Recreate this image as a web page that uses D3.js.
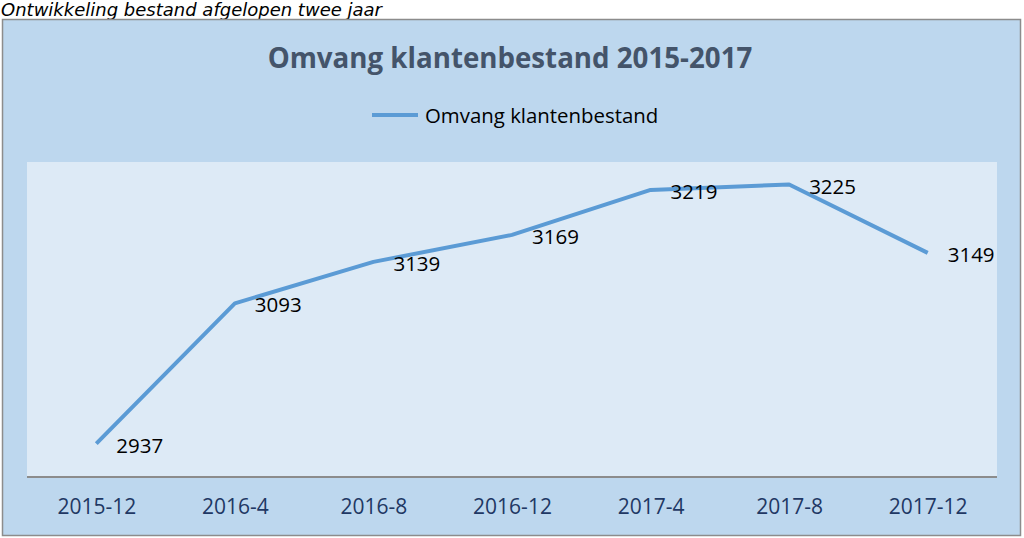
<!DOCTYPE html>
<html>
<head>
<meta charset="utf-8">
<script src="https://cdn.jsdelivr.net/npm/d3@7"></script>
<style>
  body { margin: 0; background: #fff; }
  svg { display: block; }
</style>
</head>
<body>
<div id="chart"></div>
<script>
// data
var months = ["2015-12", "2016-4", "2016-8", "2016-12", "2017-4", "2017-8", "2017-12"];
var klanten = [2937, 3093, 3139, 3169, 3219, 3225, 3149];
var yDomain = [2900, 3250];

var svgWidth = 1024, svgHeight = 538;

var svg = d3.select("#chart").append("svg")
    .attr("width", svgWidth).attr("height", svgHeight);

// subtitle above the frame
svg.append("text")
    .attr("x", 1).attr("y", 16)
    .attr("font-family", "DejaVu Sans, Verdana, sans-serif")
    .attr("font-style", "italic")
    .attr("font-size", 18)
    .attr("fill", "#000")
    .text("Ontwikkeling bestand afgelopen twee jaar");

// chart frame
svg.append("rect")
    .attr("x", 2.5).attr("y", 19.5)
    .attr("width", 1018).attr("height", 516)
    .attr("fill", "#bdd7ee")
    .attr("stroke", "#8c8c8c")
    .attr("stroke-width", 1.5);

// plot area
var plot = { left: 27, right: 997, top: 162, bottom: 477 };

svg.append("rect")
    .attr("x", plot.left).attr("y", plot.top)
    .attr("width", plot.right - plot.left).attr("height", plot.bottom - plot.top)
    .attr("fill", "#ddeaf6");

// title
svg.append("text")
    .attr("x", 510).attr("y", 57)
    .attr("text-anchor", "middle")
    .attr("dominant-baseline", "central")
    .attr("font-family", "Open Sans, sans-serif")
    .attr("font-weight", "bold")
    .attr("font-size", 27.7)
    .attr("fill", "#44546a")
    .text("Omvang klantenbestand 2015-2017");

// legend
svg.append("line")
    .attr("x1", 372).attr("x2", 418)
    .attr("y1", 115).attr("y2", 115)
    .attr("stroke", "#5b9bd5").attr("stroke-width", 4);

svg.append("text")
    .attr("x", 425).attr("y", 115)
    .attr("dominant-baseline", "central")
    .attr("font-family", "Open Sans, sans-serif")
    .attr("font-size", 20.4)
    .attr("fill", "#000")
    .text("Omvang klantenbestand");

// scales
var x = d3.scalePoint().domain(months).range([plot.left, plot.right]).padding(0.5);
var y = d3.scaleLinear().domain(yDomain).range([plot.bottom, plot.top]);

// x axis
var xAxis = svg.append("g")
    .attr("transform", "translate(0," + plot.bottom + ")")
    .call(d3.axisBottom(x).tickSize(0).tickPadding(22));

xAxis.select(".domain").attr("stroke", "#8c8c8c").attr("stroke-width", 2)
    .attr("d", "M" + plot.left + ",0H" + plot.right);
xAxis.selectAll("text")
    .attr("font-family", "Open Sans, sans-serif")
    .attr("font-size", 21)
    .attr("fill", "#1f3864");

// line
var data = months.map(function (m, i) { return { m: m, v: klanten[i] }; });

svg.append("path")
    .datum(data)
    .attr("fill", "none")
    .attr("stroke", "#5b9bd5")
    .attr("stroke-width", 4)
    .attr("stroke-linejoin", "round")
    .attr("d", d3.line().x(d => x(d.m)).y(d => y(d.v)));

// value labels
svg.selectAll(".lbl").data(data).enter().append("text")
    .attr("class", "lbl")
    .attr("x", d => x(d.m) + 20)
    .attr("y", d => y(d.v) + 1)
    .attr("dominant-baseline", "central")
    .attr("font-family", "Open Sans, sans-serif")
    .attr("font-size", 20.5)
    .attr("fill", "#000")
    .text(d => d.v);
</script>
</body>
</html>
